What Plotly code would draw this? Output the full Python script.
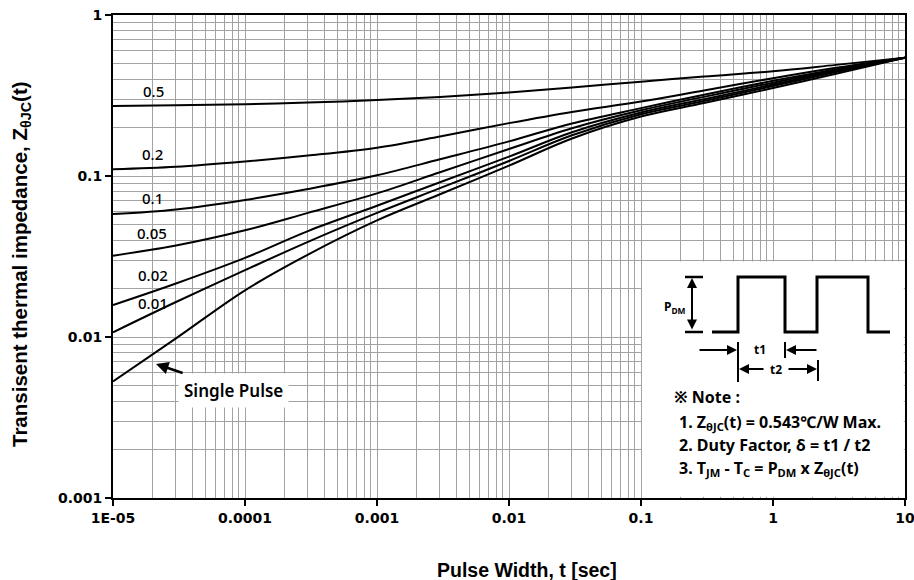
import plotly.graph_objects as go

# ---------------- data ----------------
pulse_width = [1e-5, 3e-5, 1e-4, 3e-4, 1e-3, 3e-3, 1e-2, 3e-2, 0.1, 0.3, 1, 3, 10]
duty_labels = ["0.5", "0.2", "0.1", "0.05", "0.02", "0.01", "Single Pulse"]
z_d05 = [0.272, 0.275, 0.279, 0.286, 0.296, 0.310, 0.330, 0.355, 0.385, 0.415, 0.447, 0.490, 0.543]
z_d02 = [0.110, 0.114, 0.123, 0.134, 0.150, 0.176, 0.213, 0.250, 0.290, 0.340, 0.405, 0.470, 0.543]
z_d01 = [0.058, 0.062, 0.071, 0.083, 0.101, 0.127, 0.164, 0.212, 0.264, 0.320, 0.390, 0.460, 0.543]
z_d005 = [0.032, 0.037, 0.046, 0.059, 0.078, 0.1055, 0.147, 0.198, 0.256, 0.310, 0.380, 0.455, 0.543]
z_d002 = [0.0158, 0.0215, 0.031, 0.0455, 0.0654, 0.0914, 0.132, 0.187, 0.248, 0.300, 0.370, 0.450, 0.543]
z_d001 = [0.0107, 0.0165, 0.026, 0.039, 0.059, 0.084, 0.124, 0.179, 0.242, 0.292, 0.362, 0.442, 0.543]
z_single = [0.0053, 0.0098, 0.0195, 0.0325, 0.053, 0.077, 0.116, 0.171, 0.234, 0.284, 0.352, 0.432, 0.543]
series = [z_d05, z_d02, z_d01, z_d005, z_d002, z_d001, z_single]

x_tick_vals = [1e-5, 1e-4, 1e-3, 1e-2, 1e-1, 1, 10]
x_tick_text = ["1E-05", "0.0001", "0.001", "0.01", "0.1", "1", "10"]
y_tick_vals = [0.001, 0.01, 0.1, 1]
y_tick_text = ["0.001", "0.01", "0.1", "1"]

x_title = "Pulse Width, t [sec]"
y_title = "Transisent thermal impedance, Z<sub>θJC</sub>(t)"
note_lines = [
    "※ Note :",
    "1. Z<sub>θJC</sub>(t) = 0.543℃/W Max.",
    "2. Duty Factor, δ = t1 / t2",
    "3. T<sub>JM</sub> - T<sub>C</sub> = P<sub>DM</sub> x Z<sub>θJC</sub>(t)",
]

# ---------------- layout helpers (pixel -> paper) ----------------
W, H = 914, 580
L, R, T, B = 113, 905, 15, 498


def px(x):
    return (x - L) / (R - L)


def py(y):
    return (B - y) / (B - T)


GRID = "#a3a3a3"
fig = go.Figure()

for vals, name in zip(series, duty_labels):
    fig.add_trace(go.Scatter(
        x=pulse_width, y=vals, mode="lines", name=name,
        line=dict(color="black", width=2, shape="spline", smoothing=1.0),
        hoverinfo="skip",
    ))

minor_x = [m * 10 ** e for e in range(-5, 1) for m in range(2, 10)]
minor_y = [m * 10 ** e for e in range(-3, 0) for m in range(2, 10)]
tickfont = dict(family="DejaVu Sans", size=14, color="black", weight="bold")

fig.update_xaxes(
    type="log", range=[-5.00002, 1.00002], tickmode="array", tickvals=x_tick_vals, ticktext=x_tick_text,
    showgrid=True, gridcolor=GRID, gridwidth=1,
    minor=dict(tickmode="array", tickvals=minor_x, showgrid=True, gridcolor=GRID, gridwidth=1, ticks=""),
    showline=True, linecolor="black", linewidth=2, mirror=True,
    ticks="outside", ticklen=6, tickwidth=1.5, tickcolor="black",
    tickfont=tickfont, zeroline=False, automargin=False, ticklabeloverflow="allow",
)
fig.update_yaxes(
    type="log", range=[-3.00002, 0.00002], tickmode="array", tickvals=y_tick_vals, ticktext=y_tick_text,
    showgrid=True, gridcolor=GRID, gridwidth=1,
    minor=dict(tickmode="array", tickvals=minor_y, showgrid=True, gridcolor=GRID, gridwidth=1, ticks=""),
    showline=True, linecolor="black", linewidth=2, mirror=True,
    ticks="outside", ticklen=6, tickwidth=1.5, tickcolor="black",
    tickfont=tickfont, zeroline=False, automargin=False, ticklabeloverflow="allow",
)

shapes = []
# white inset box (covers grid, lower right)
shapes.append(dict(type="rect", xref="paper", yref="paper",
                   x0=px(642), x1=px(903.8), y0=py(496.8), y1=py(261.5),
                   fillcolor="white", line=dict(width=0), layer="above"))

# pulse waveform
wave = [(712, 332), (738, 332), (738, 277), (785, 277), (785, 332), (817, 332),
        (817, 277), (868, 277), (868, 332), (890, 332)]
path = "M " + " L ".join(f"{px(a):.5f},{py(b):.5f}" for a, b in wave)
shapes.append(dict(type="path", xref="paper", yref="paper", path=path,
                   line=dict(color="black", width=3), layer="above"))


def seg(x0, y0, x1, y1, w=2):
    shapes.append(dict(type="line", xref="paper", yref="paper",
                       x0=px(x0), y0=py(y0), x1=px(x1), y1=py(y1),
                       line=dict(color="black", width=w), layer="above"))


seg(685, 277, 703, 277, 2.5)
seg(685, 332, 703, 332, 2.5)
seg(738, 342, 738, 382)
seg(785, 342, 785, 358)
seg(818, 360, 818, 381)

annotations = []


def arrow(tipx, tipy, tailx, taily, both=False):
    a = dict(xref="paper", yref="paper", x=px(tipx), y=py(tipy), text="",
             showarrow=True, ax=tailx - tipx, ay=taily - tipy, axref="pixel", ayref="pixel",
             arrowhead=2, arrowsize=1, arrowwidth=2, arrowcolor="black")
    if both:
        a.update(arrowside="end+start", startarrowhead=2, startarrowsize=1)
    annotations.append(a)


arrow(692, 278, 692, 331, both=True)
arrow(737, 350, 698, 350)
arrow(786, 350, 818, 350)
arrow(739, 369, 765, 369)
arrow(817, 369, 787, 369)


def text(x, y, s, size, xanchor="center", weight="bold", family="Noto Sans, Noto Sans CJK KR", **kw):
    annotations.append(dict(xref="paper", yref="paper", x=px(x), y=py(y), text=s,
                            showarrow=False, xanchor=xanchor, yanchor="middle",
                            font=dict(family=family, size=size, color="black", weight=weight), **kw))


text(688, 307, "P<sub>DM</sub>", 12, xanchor="right")
text(760, 350, "t1", 12)
text(776, 369, "t2", 12)

text(672, 397, note_lines[0], 16, xanchor="left")
for i, s in enumerate(note_lines[1:]):
    text(677, 422 + 23 * i, s, 16, xanchor="left")

# curve labels
label_pos = [(153, 91), (152, 154), (152, 198), (152, 233), (153, 275), (153, 303)]
for (lx, ly), s in zip(label_pos, duty_labels[:6]):
    text(lx, ly, s, 15, weight=500)

# Single pulse callout
annotations.append(dict(xref="paper", yref="paper", x=px(156), y=py(364), text=duty_labels[6],
                        showarrow=True, ax=233 - 156, ay=390 - 364, axref="pixel", ayref="pixel",
                        arrowhead=2, arrowsize=1, arrowwidth=2.5, arrowcolor="black",
                        bgcolor="white", borderpad=5,
                        font=dict(family="Noto Sans", size=17, color="black", weight=600)))

# axis titles
text(527, 569.5, x_title, 19.5, family="Liberation Sans, Arial")
text(21, 264, y_title, 20.5, family="Liberation Sans, Arial", textangle=-90)

fig.update_layout(
    width=W, height=H, margin=dict(l=L, r=W - R, t=T, b=H - B),
    paper_bgcolor="white", plot_bgcolor="white", showlegend=False,
    shapes=shapes, annotations=annotations,
)

fig.write_html("out.html")
